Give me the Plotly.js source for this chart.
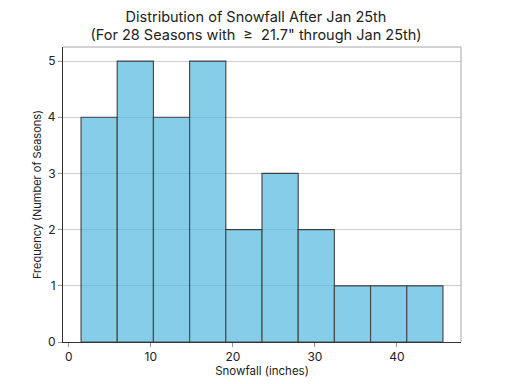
<!DOCTYPE html>
<html>
<head>
<meta charset="utf-8">
<script src="https://cdn.plot.ly/plotly-3.0.1.min.js"></script>
<style>html,body{margin:0;padding:0;background:#fff;}#chart{width:512px;height:384px;}</style>
</head>
<body>
<div id="chart"></div>
<script>
const binEdges = [1.5, 5.91, 10.32, 14.73, 19.14, 23.55, 27.96, 32.37, 36.78, 41.19, 45.6];
const counts = [4, 5, 4, 5, 2, 3, 2, 1, 1, 1];
const xTicks = [0, 10, 20, 30, 40];
const yTicks = [0, 1, 2, 3, 4, 5];
const titleText = 'Distribution of Snowfall After Jan 25th<br>(For 28 Seasons with  \u2265  21.7" through Jan 25th)';
const xLabel = 'Snowfall (inches)';
const yLabel = 'Frequency (Number of Seasons)';

const centers = counts.map((c, i) => (binEdges[i] + binEdges[i + 1]) / 2);
const widths = counts.map((c, i) => binEdges[i + 1] - binEdges[i]);
const FONT = 'Inter, Roboto, sans-serif';

const trace = {
  type: 'bar',
  x: centers,
  y: counts,
  width: widths,
  opacity: 0.7,
  marker: {color: '#54b9e2', line: {color: '#000000', width: 1.2}},
  hoverinfo: 'none'
};

const layout = {
  width: 512, height: 384,
  margin: {l: 63, r: 51, t: 47, b: 42},
  paper_bgcolor: '#fff', plot_bgcolor: '#fff',
  showlegend: false,
  font: {family: FONT, color: '#222', size: 11},
  title: {text: titleText, font: {family: FONT, size: 14.5, color: '#222'}, x: 0.5, xanchor: 'center', yref: 'container', y: 0.944, yanchor: 'middle'},
  xaxis: {
    range: [-0.7, 47.8], tickvals: xTicks, ticktext: xTicks.map(String),
    showgrid: false, zeroline: false,
    showline: true, linecolor: '#333', linewidth: 1,
    ticks: 'outside', ticklen: 4, tickcolor: '#999', tickwidth: 1,
    tickfont: {family: FONT, size: 12, color: '#222'},
    title: {text: xLabel, font: {family: FONT, size: 11.5, color: '#222'}, standoff: 3}
  },
  yaxis: {
    range: [0, 5.25], tickvals: yTicks, ticktext: yTicks.map(String),
    showgrid: true, gridcolor: '#cfcfcf', gridwidth: 1, zeroline: false,
    showline: true, linecolor: '#333', linewidth: 1,
    ticks: 'outside', ticklen: 4, tickcolor: '#999', tickwidth: 1,
    tickfont: {family: FONT, size: 12, color: '#222'},
    title: {text: yLabel, font: {family: FONT, size: 11, color: '#222'}, standoff: 3}
  },
  shapes: [
    {type: 'line', xref: 'paper', yref: 'paper', x0: 0, x1: 1, y0: 1, y1: 1, line: {color: '#a8a8a8', width: 1}},
    {type: 'line', xref: 'paper', yref: 'paper', x0: 1, x1: 1, y0: 0, y1: 1, line: {color: '#a8a8a8', width: 1}}
  ]
};

Plotly.newPlot('chart', [trace], layout, {displayModeBar: false, staticPlot: true});
</script>
</body>
</html>
